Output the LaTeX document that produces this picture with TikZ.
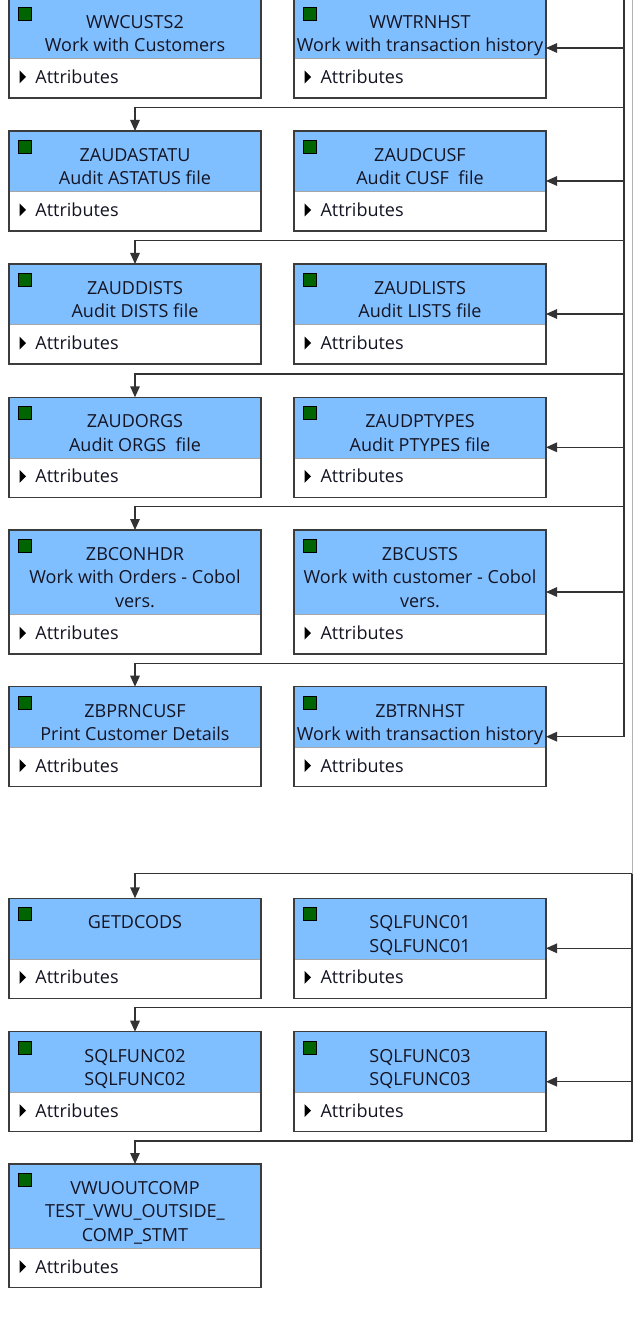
\documentclass[tikz,border=0pt]{standalone}
\usepackage{fontspec}
\setmainfont{Open Sans}
\usepackage{tikz}
\usetikzlibrary{arrows.meta}

\definecolor{hdrblue}{RGB}{128,191,255}
\definecolor{sqgreen}{RGB}{0,100,0}
\definecolor{boxline}{RGB}{60,60,60}
\definecolor{txt}{RGB}{20,20,35}

\newcommand{\clsbody}[2]{\parbox[c][#1][s]{252pt}{\centering\rule{0pt}{30.5pt}#2\par\vfill
   \raggedright\hspace*{26.5pt}Attributes\par\vspace*{14.5pt}}}

\begin{document}
\begin{tikzpicture}[x=1pt,y=-1pt,>={Triangle[length=11pt,width=9.5pt]},
   cls/.style={rectangle, draw=boxline, line width=1.3pt, inner sep=0pt, outer sep=0pt,
      anchor=north west, text=txt, font=\fontsize{18pt}{23.4pt}\selectfont,
      path picture={
         \fill[hdrblue] (path picture bounding box.north west) rectangle ([yshift=39.3pt]path picture bounding box.south east);
         \draw[black!35,line width=1pt] ([yshift=39.3pt]path picture bounding box.south west) -- ([yshift=39.3pt]path picture bounding box.south east);
         \fill[sqgreen,draw=black,line width=0.9pt] ([shift={(9.5pt,-9.5pt)}]path picture bounding box.north west) rectangle ++(13pt,-13pt);
         \fill[black] ([shift={(10.5pt,14.5pt)}]path picture bounding box.south west) -- ++(0pt,13pt) -- ++(6.5pt,-6.5pt) -- cycle;
      }},
   conn/.style={draw=black!80, line width=1.4pt}]

   \fill[white] (0,0) rectangle (633,1324);
   \useasboundingbox (0,0) rectangle (633,1324);

   % first group
   \node[cls] (wwcusts2) at (9,-2) {\clsbody{100pt}{WWCUSTS2\\Work with Customers}};
   \node[cls] (wwtrnhst) at (294,-2) {\clsbody{100pt}{WWTRNHST\\Work with transaction history}};
   \node[cls] (zaudastatu) at (9,131) {\clsbody{100pt}{ZAUDASTATU\\Audit ASTATUS file}};
   \node[cls] (zaudcusf) at (294,131) {\clsbody{100pt}{ZAUDCUSF\\Audit CUSF\ \ file}};
   \node[cls] (zauddists) at (9,264) {\clsbody{100pt}{ZAUDDISTS\\Audit DISTS file}};
   \node[cls] (zaudlists) at (294,264) {\clsbody{100pt}{ZAUDLISTS\\Audit LISTS file}};
   \node[cls] (zaudorgs) at (9,397.3) {\clsbody{100pt}{ZAUDORGS\\Audit ORGS\ \ file}};
   \node[cls] (zaudptypes) at (294,397.3) {\clsbody{100pt}{ZAUDPTYPES\\Audit PTYPES file}};
   \node[cls] (zbconhdr) at (9,530) {\clsbody{124pt}{ZBCONHDR\\Work with Orders - Cobol\\vers.}};
   \node[cls] (zbcusts) at (294,530) {\clsbody{124pt}{ZBCUSTS\\Work with customer - Cobol\\vers.}};
   \node[cls] (zbprncusf) at (9,686.7) {\clsbody{100pt}{ZBPRNCUSF\\Print Customer Details}};
   \node[cls] (zbtrnhst) at (294,686.7) {\clsbody{100pt}{ZBTRNHST\\Work with transaction history}};

   % second group
   \node[cls] (getdcods) at (9,898.3) {\clsbody{100pt}{GETDCODS}};
   \node[cls] (sqlfunc01) at (294,898.3) {\clsbody{100pt}{SQLFUNC01\\SQLFUNC01}};
   \node[cls] (sqlfunc02) at (9,1031.7) {\clsbody{100pt}{SQLFUNC02\\SQLFUNC02}};
   \node[cls] (sqlfunc03) at (294,1031.7) {\clsbody{100pt}{SQLFUNC03\\SQLFUNC03}};
   \node[cls] (vwuoutcomp) at (9,1164) {\clsbody{123.7pt}{VWUOUTCOMP\\TEST\_VWU\_OUTSIDE\_\\COMP\_STMT}};

   \coordinate (t1) at (624,-5);
   \coordinate (t2) at (632,873.7);

   \draw[conn,->] (t1) |- (zbtrnhst.east);
   \draw[conn,->] (t1 |- wwtrnhst.east) -- (wwtrnhst.east);
   \draw[conn,->] (t1 |- zaudcusf.east) -- (zaudcusf.east);
   \draw[conn,->] (t1 |- zaudlists.east) -- (zaudlists.east);
   \draw[conn,->] (t1 |- zaudptypes.east) -- (zaudptypes.east);
   \draw[conn,->] (t1 |- zbcusts.east) -- (zbcusts.east);
   \draw[conn,->] (t1 |- 0,107.7) -| (zaudastatu.north);
   \draw[conn,->] (t1 |- 0,240.7) -| (zauddists.north);
   \draw[conn,->] (t1 |- 0,374) -| (zaudorgs.north);
   \draw[conn,->] (t1 |- 0,506.7) -| (zbconhdr.north);
   \draw[conn,->] (t1 |- 0,663.3) -| (zbprncusf.north);

   \draw[black!30,line width=1pt] (t2 |- 0,-5) -- (t2);
   \draw[conn,->] (t2) -| (getdcods.north);
   \draw[conn,->] (t2) -- (t2 |- 0,1141) -| (vwuoutcomp.north);
   \draw[conn,->] (t2 |- sqlfunc01.east) -- (sqlfunc01.east);
   \draw[conn,->] (t2 |- 0,1007.3) -| (sqlfunc02.north);
   \draw[conn,->] (t2 |- sqlfunc03.east) -- (sqlfunc03.east);
\end{tikzpicture}
\end{document}
